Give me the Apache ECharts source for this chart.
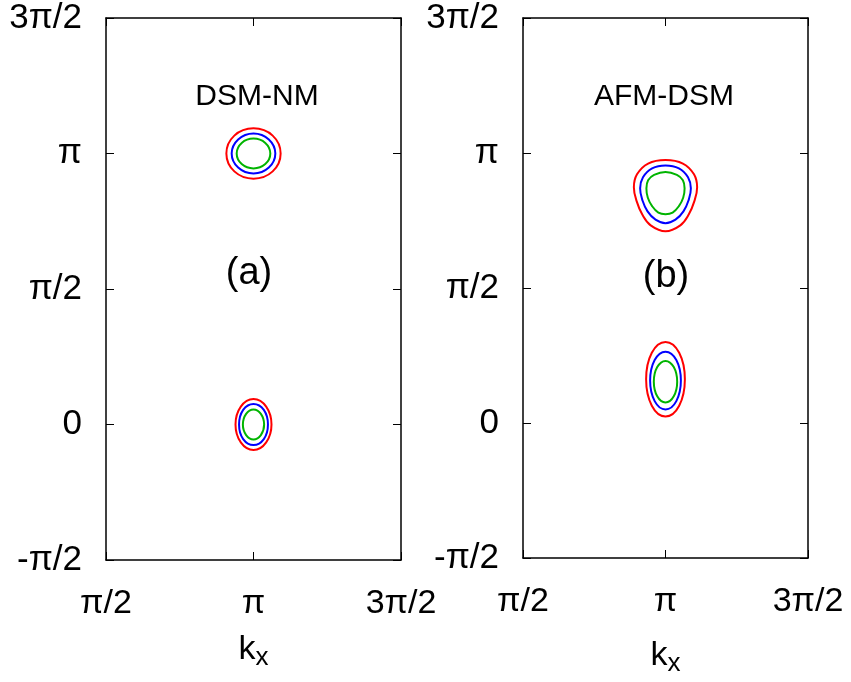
<!DOCTYPE html>
<html>
<head>
<meta charset="utf-8">
<script src="https://cdn.jsdelivr.net/npm/echarts@6/dist/echarts.min.js"></script>
<style>
  html, body { margin: 0; padding: 0; background: #fff; }
  #chart { width: 851px; height: 682px; }
</style>
</head>
<body>
<div id="chart"></div>
<script>
// axis values are in units of pi
var xTicks = [0.5, 1, 1.5];
var xTickLabels = ["π/2", "π", "3π/2"];
var yTicks = [-0.5, 0, 0.5, 1, 1.5];
var yTickLabels = ["-π/2", "0", "π/2", "π", "3π/2"];
var panelTitles = ["DSM-NM", "AFM-DSM"];
var panelTags = ["(a)", "(b)"];

// (a) DSM-NM, contour around (pi, pi)
var aTopRed = [[1.0, 1.093], [1.065, 1.066], [1.092, 1.0], [1.065, 0.934], [1.0, 0.907], [0.935, 0.934], [0.908, 1.0], [0.935, 1.066]];
var aTopBlue = [[1.0, 1.074], [1.052, 1.052], [1.074, 1.0], [1.052, 0.948], [1.0, 0.926], [0.948, 0.948], [0.926, 1.0], [0.948, 1.052]];
var aTopGreen = [[1.0, 1.055], [1.040, 1.039], [1.057, 1.0], [1.040, 0.961], [1.0, 0.945], [0.960, 0.961], [0.943, 1.0], [0.960, 1.039]];
// (a) contour around (pi, 0)
var aLowRed = [[1.0, 0.094], [1.043, 0.066], [1.061, 0], [1.043, -0.066], [1.0, -0.094], [0.957, -0.066], [0.939, 0], [0.957, 0.066]];
var aLowBlue = [[1.0, 0.076], [1.035, 0.054], [1.049, 0], [1.035, -0.054], [1.0, -0.076], [0.965, -0.054], [0.951, 0], [0.965, 0.054]];
var aLowGreen = [[1.0, 0.055], [1.025, 0.039], [1.036, 0], [1.025, -0.039], [1.0, -0.055], [0.975, -0.039], [0.964, 0], [0.975, 0.039]];

// (b) AFM-DSM, upper pocket
var bTopRed = [[1.0, 0.974], [1.061, 0.961], [1.100, 0.921], [1.111, 0.873], [1.101, 0.821], [1.081, 0.771], [1.052, 0.732], [1.0, 0.710],
  [0.948, 0.732], [0.919, 0.771], [0.899, 0.821], [0.889, 0.873], [0.900, 0.921], [0.939, 0.961]];
var bTopBlue = [[1.0, 0.954], [1.047, 0.943], [1.079, 0.910], [1.089, 0.869], [1.081, 0.825], [1.063, 0.784], [1.035, 0.753], [1.0, 0.740],
  [0.965, 0.753], [0.937, 0.784], [0.919, 0.825], [0.911, 0.869], [0.921, 0.910], [0.953, 0.943]];
var bTopGreen = [[1.0, 0.930], [1.040, 0.919], [1.061, 0.899], [1.067, 0.869], [1.062, 0.834], [1.047, 0.803], [1.025, 0.779], [1.0, 0.773],
  [0.975, 0.779], [0.953, 0.803], [0.938, 0.834], [0.933, 0.869], [0.939, 0.899], [0.960, 0.919]];
// (b) lower pocket
var bLowRed = [[1.0, 0.300], [1.048, 0.260], [1.068, 0.162], [1.048, 0.064], [1.0, 0.024], [0.952, 0.064], [0.932, 0.162], [0.952, 0.260]];
var bLowBlue = [[1.0, 0.264], [1.038, 0.233], [1.054, 0.157], [1.038, 0.081], [1.0, 0.050], [0.962, 0.081], [0.946, 0.157], [0.962, 0.233]];
var bLowGreen = [[1.0, 0.230], [1.029, 0.207], [1.041, 0.153], [1.029, 0.099], [1.0, 0.076], [0.971, 0.099], [0.959, 0.153], [0.971, 0.207]];

var RED = "#ff0000", BLUE = "#0000ff", GREEN = "#00b400";
var FONT = "Liberation Sans";

function tickLabel(list, labels) {
  return function (v) {
    for (var i = 0; i < list.length; i++) {
      if (Math.abs(list[i] - v) < 1e-6) return labels[i];
    }
    return "";
  };
}

function contour(pts, color, idx) {
  return {
    type: "custom",
    xAxisIndex: idx,
    yAxisIndex: idx,
    silent: true,
    clip: false,
    data: pts,
    renderItem: function (params, api) {
      if (params.dataIndex !== 0) return;
      var p = pts.map(function (d) { return api.coord(d); });
      return {
        type: "polygon",
        shape: { points: p, smooth: 0.4 },
        style: { fill: null, stroke: color, lineWidth: 2 }
      };
    }
  };
}

function text(str, x, y, size) {
  return { type: "text", x: x, y: y, style: { text: str, font: size + "px '" + FONT + "'", fill: "#000", align: "center", verticalAlign: "middle" } };
}

var chart = echarts.init(document.getElementById("chart"));

var grids = [
  { left: 106, top: 18, width: 295, height: 542 },
  { left: 523, top: 18, width: 285, height: 542 }
];

var lineStyle = { color: "#000", width: 1.5 };
var tickStyle = { show: true, inside: true, length: 8, lineStyle: { color: "#000", width: 1 } };

var xAxes = [], yAxes = [];
[0, 1].forEach(function (g) {
  xAxes.push({
    gridIndex: g, type: "value", min: 0.5, max: 1.5, interval: 0.5, position: "bottom",
    axisLine: { show: true, onZero: false, lineStyle: lineStyle },
    axisTick: tickStyle,
    splitLine: { show: false },
    axisLabel: { show: true, margin: 27, color: "#000", fontSize: 34, fontFamily: FONT,
      showMinLabel: true, showMaxLabel: true, formatter: tickLabel(xTicks, xTickLabels) },
    name: "{k|k}{s|x}",
    nameLocation: "middle",
    nameGap: g === 0 ? 70 : 78,
    nameTextStyle: {
      rich: {
        k: { fontSize: 34, fontFamily: FONT, color: "#000", lineHeight: 40 },
        s: { fontSize: 26, fontFamily: FONT, color: "#000", padding: [16, 0, 0, 0], lineHeight: 40 }
      }
    }
  });
  yAxes.push({
    gridIndex: g, type: "value", min: -0.5, max: 1.5, interval: 0.5, position: "left",
    axisLine: { show: true, onZero: false, lineStyle: lineStyle },
    axisTick: tickStyle,
    splitLine: { show: false },
    axisLabel: { show: true, margin: 24, color: "#000", fontSize: 35, fontFamily: FONT,
      showMinLabel: true, showMaxLabel: true, formatter: tickLabel(yTicks, yTickLabels) }
  });
});
[0, 1].forEach(function (g) {
  xAxes.push({
    gridIndex: g, type: "value", min: 0.5, max: 1.5, interval: 0.5, position: "top",
    axisLine: { show: true, onZero: false, lineStyle: lineStyle },
    axisTick: tickStyle, axisLabel: { show: false }, splitLine: { show: false }
  });
  yAxes.push({
    gridIndex: g, type: "value", min: -0.5, max: 1.5, interval: 0.5, position: "right",
    axisLine: { show: true, onZero: false, lineStyle: lineStyle },
    axisTick: tickStyle, axisLabel: { show: false }, splitLine: { show: false }
  });
});

var series = [
  contour(aTopRed, RED, 0), contour(aTopBlue, BLUE, 0), contour(aTopGreen, GREEN, 0),
  contour(aLowRed, RED, 0), contour(aLowBlue, BLUE, 0), contour(aLowGreen, GREEN, 0),
  contour(bTopRed, RED, 1), contour(bTopBlue, BLUE, 1), contour(bTopGreen, GREEN, 1),
  contour(bLowRed, RED, 1), contour(bLowBlue, BLUE, 1), contour(bLowGreen, GREEN, 1)
];

var option = {
  animation: false,
  backgroundColor: "#fff",
  grid: grids,
  xAxis: xAxes,
  yAxis: yAxes,
  series: series,
  graphic: [
    text(panelTitles[0], 257, 97, 30),
    text(panelTitles[1], 664, 97, 30),
    text(panelTags[0], 249, 274, 38),
    text(panelTags[1], 666, 277, 38)
  ]
};

chart.setOption(option);
window.addEventListener("resize", function () { chart.resize(); });
</script>
</body>
</html>
